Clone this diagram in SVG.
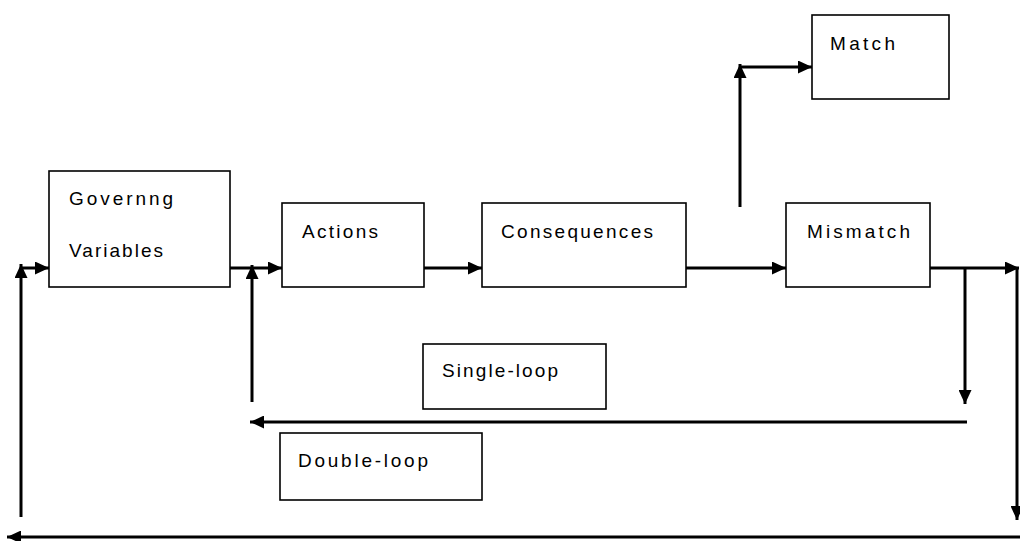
<svg xmlns="http://www.w3.org/2000/svg" width="1020" height="541" viewBox="0 0 1020 541">
  <style>
    .box { fill: #ffffff; stroke: #000000; stroke-width: 1.6; }
    .lbl { font-family: "Liberation Sans", Arial, sans-serif; font-size: 19px; fill: #000000; }
    .wire { fill: none; stroke: #000000; stroke-width: 3; }
  </style>
  <defs>
    <marker id="head" markerUnits="userSpaceOnUse" markerWidth="15" markerHeight="13" refX="14" refY="6.5" orient="auto">
      <path d="M0,0 L14,6.5 L0,13 z" fill="#000000"/>
    </marker>
  </defs>
  <rect width="1020" height="541" fill="#ffffff"/>

  <!-- nodes -->
  <g id="governing-variables">
    <rect class="box" x="49" y="171" width="181" height="116"/>
    <text class="lbl" x="69" y="205" textLength="104" lengthAdjust="spacing">Governng</text>
    <text class="lbl" x="69" y="257" textLength="94" lengthAdjust="spacing">Variables</text>
  </g>
  <g id="actions">
    <rect class="box" x="282" y="203" width="142" height="84"/>
    <text class="lbl" x="302" y="238" textLength="76" lengthAdjust="spacing">Actions</text>
  </g>
  <g id="consequences">
    <rect class="box" x="482" y="203" width="204" height="84"/>
    <text class="lbl" x="501" y="238" textLength="152" lengthAdjust="spacing">Consequences</text>
  </g>
  <g id="match">
    <rect class="box" x="812" y="15" width="137" height="84"/>
    <text class="lbl" x="830" y="50" textLength="65" lengthAdjust="spacing">Match</text>
  </g>
  <g id="mismatch">
    <rect class="box" x="786" y="203" width="144" height="84"/>
    <text class="lbl" x="807" y="238" textLength="103" lengthAdjust="spacing">Mismatch</text>
  </g>
  <g id="single-loop">
    <rect class="box" x="423" y="344" width="183" height="65"/>
    <text class="lbl" x="442" y="377" textLength="116" lengthAdjust="spacing">Single-loop</text>
  </g>
  <g id="double-loop">
    <rect class="box" x="280" y="433" width="202" height="67"/>
    <text class="lbl" x="298" y="467" textLength="130" lengthAdjust="spacing">Double-loop</text>
  </g>

  <!-- connectors -->
  <g id="connectors" class="wire" marker-end="url(#head)">
    <path d="M230,268 H282"/>
    <path d="M424,268 H482"/>
    <path d="M686,268 H786"/>
    <path d="M740,207 V64"/>
    <path d="M740,67 H812"/>
    <path d="M930,268 H1019"/>
    <path d="M965,268 V404"/>
    <path d="M1017,268 V520"/>
    <path d="M967,422 H250"/>
    <path d="M252,402 V265"/>
    <path d="M1020,537 H7"/>
    <path d="M21,517 V264"/>
    <path d="M21,268 H49"/>
  </g>
</svg>
